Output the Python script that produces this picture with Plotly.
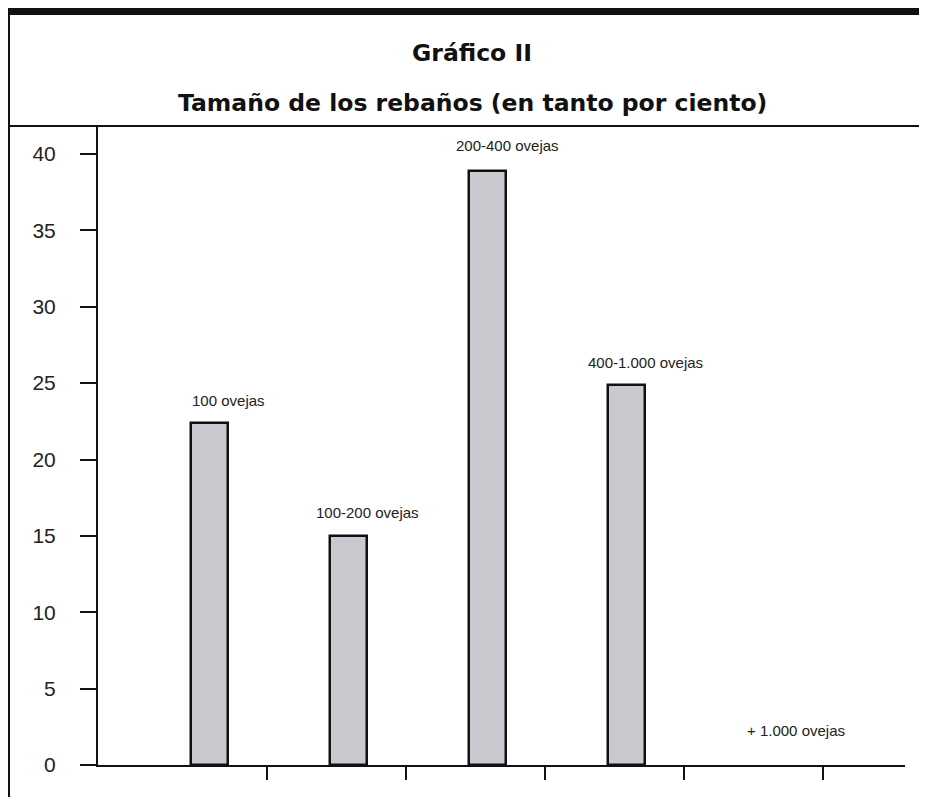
import plotly.graph_objects as go

# ---- data ----
categories = ["100 ovejas", "100-200 ovejas", "200-400 ovejas", "400-1.000 ovejas", "+ 1.000 ovejas"]
values = [22.4, 15, 38.9, 24.9, 0]
y_ticks = [0, 5, 10, 15, 20, 25, 30, 35, 40]
title_main = "Gráfico II"
title_sub = "Tamaño de los rebaños (en tanto por ciento)"

# page is rendered with an 8px body margin: work in page pixels, shift by OFF
OFF = 8
PW, PH = 927, 797
W, H = PW - OFF, PH - OFF
L, R, T, B = 98 - OFF, 22, 126 - OFF, 32
pw, ph = W - L - R, H - T - B

def px_x(p):  # page pixel -> paper x
    return (p - OFF - L) / pw

def px_y(p):  # page pixel -> paper y
    return (H - B - (p - OFF)) / ph

xpos = list(range(len(categories)))

fig = go.Figure()
fig.add_trace(go.Bar(
    x=xpos, y=values, width=0.266,
    marker=dict(color="#c8cad0",
                line=dict(color="#111111", width=[2.5 if v > 0 else 0 for v in values])),
    hoverinfo="skip", showlegend=False,
))

label_yshift = [22, 23, 25, 22, 35]
label_xshift = [19, 19, 20, 19, 31]
annotations = []
for i, (c, v) in enumerate(zip(categories, values)):
    annotations.append(dict(
        x=xpos[i], y=v, xref="x", yref="y", text=c, showarrow=False,
        xanchor="center", yanchor="middle", xshift=label_xshift[i], yshift=label_yshift[i],
        font=dict(family="Liberation Sans Narrow, Arial Narrow, Liberation Sans", size=15, color="#222222"),
    ))
annotations.append(dict(
    x=px_x(472), y=px_y(53), xref="paper", yref="paper", text="<b>" + title_main + "</b>",
    showarrow=False, xanchor="center", yanchor="middle",
    font=dict(family="DejaVu Sans", size=23.5, color="#111111"),
))
annotations.append(dict(
    x=px_x(472), y=px_y(103), xref="paper", yref="paper", text="<b>" + title_sub + "</b>",
    showarrow=False, xanchor="center", yanchor="middle",
    font=dict(family="DejaVu Sans", size=23.5, color="#111111"),
))

shapes = [
    # thick top rule
    dict(type="line", xref="paper", yref="paper", x0=px_x(OFF), x1=px_x(PW + 2), y0=px_y(11.5), y1=px_y(11.5),
         line=dict(color="#111111", width=7)),
    # rule under titles
    dict(type="line", xref="paper", yref="paper", x0=px_x(OFF), x1=px_x(PW + 2), y0=px_y(126), y1=px_y(126),
         line=dict(color="#111111", width=2)),
    # left frame line
    dict(type="line", xref="paper", yref="paper", x0=px_x(OFF + 1), x1=px_x(OFF + 1), y0=px_y(OFF), y1=px_y(PH + 2),
         line=dict(color="#111111", width=2)),
]

fig.update_layout(
    width=W, height=H,
    margin=dict(l=L, r=R, t=T, b=B, pad=0),
    paper_bgcolor="white", plot_bgcolor="white",
    annotations=annotations, shapes=shapes,
    bargap=0,
    xaxis=dict(
        range=[-0.8, 5.007], showgrid=False, zeroline=False,
        showline=True, linecolor="#111111", linewidth=2,
        tickmode="array", tickvals=[i + 0.417 for i in xpos], ticktext=["" for _ in xpos],
        ticks="outside", ticklen=13, tickwidth=2, tickcolor="#111111",
        fixedrange=True,
    ),
    yaxis=dict(
        range=[0, (PH - B - 126) / ((PH - B - 154) / 40)], showgrid=False, zeroline=False,
        showline=True, linecolor="#111111", linewidth=2,
        tickmode="array", tickvals=y_ticks, ticktext=[str(t) for t in y_ticks],
        ticks="outside", ticklen=16, tickwidth=2, tickcolor="#111111",
        ticklabelstandoff=20,
        tickfont=dict(family="Liberation Sans, Arial", size=21, color="#222222"),
        fixedrange=True,
    ),
)

fig.write_html("out.html", config={"displayModeBar": False})
